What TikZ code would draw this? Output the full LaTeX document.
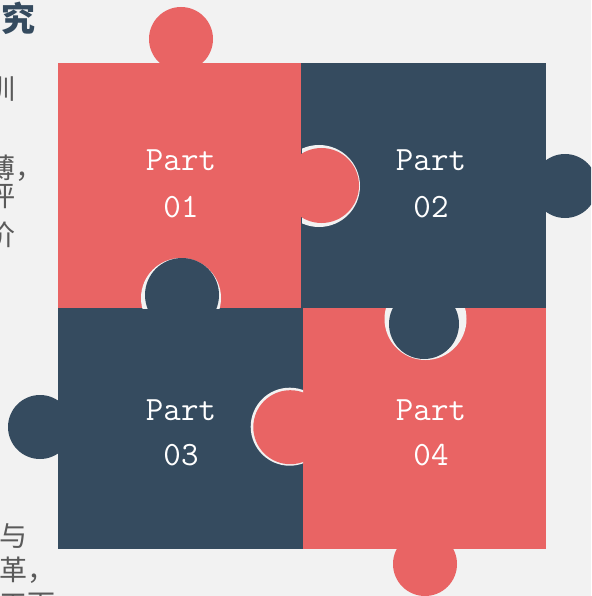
\documentclass[tikz,border=0pt]{standalone}
\usepackage{fontspec}
\newfontfamily\cjk{Noto Sans CJK SC}
\definecolor{pred}{HTML}{E96464}
\definecolor{pblue}{HTML}{354B5F}
\definecolor{bg}{HTML}{F2F2F2}
\definecolor{txtgray}{HTML}{5A5A5A}
\tikzset{
  parttext/.style={text=white, font=\ttfamily\fontsize{34}{40}\selectfont, anchor=base, inner sep=0pt},
  sidetext/.style={text=txtgray, font=\cjk\fontsize{28}{28}\selectfont, inner sep=0pt},
  titletext/.style={text=pblue, font=\cjk\bfseries\fontsize{34}{34}\selectfont, inner sep=0pt, anchor=base west},
}
\begin{document}
\begin{tikzpicture}[x=1pt,y=-1pt]
\useasboundingbox (0,0) rectangle (591,596);
\clip (0,0) rectangle (591,596);
\fill[bg] (0,0) rectangle (591,596);

% outer knobs
\fill[pred] (181,39) circle[radius=32];
\fill[pblue] (565,186) circle[radius=32];
\fill[pblue] (40,427) circle[radius=32];
\fill[pred] (425,564) circle[radius=32];

% squares
\fill[pred] (58,63) rectangle (302,308);
\fill[pblue] (301,63) rectangle (546,308);
\fill[pblue] (58,308) rectangle (303,549);
\fill[pred] (303,308) rectangle (546,549);

% inner knobs
\begin{scope}
  \clip (302,63) rectangle (546,308);
  \fill[bg] (319,186) circle[radius=41];
\end{scope}
\fill[pred] (321.5,185.5) circle[radius=37.5];

\begin{scope}
  \clip (58,63) rectangle (302,308);
  \fill[bg] (181,298) circle[radius=40];
\end{scope}
\fill[pblue] (182,295) circle[radius=37];

\begin{scope}
  \clip (303,308) rectangle (546,549);
  \fill[bg] (425.5,319) circle[radius=41];
\end{scope}
\fill[pblue] (424,324) circle[radius=35];

\begin{scope}
  \clip (58,308) rectangle (303,549);
  \fill[bg] (289.7,426.7) circle[radius=39];
\end{scope}
\fill[pred] (290.3,427.2) circle[radius=37];

% labels
\node[parttext] (p1a) at (181,171) {Part};
\node[parttext] (p1b) at (181,217) {01};
\node[parttext] (p2a) at (431,171) {Part};
\node[parttext] (p2b) at (431,217) {02};
\node[parttext] (p3a) at (181,420) {Part};
\node[parttext] (p3b) at (181,465) {03};
\node[parttext] (p4a) at (431,420) {Part};
\node[parttext] (p4b) at (431,465) {04};

% side text (clipped at left edge)
\node[titletext] (t1) at (1,32) {究};
\node[sidetext, anchor=base east] (s1) at (16,100) {训};
\node[sidetext, anchor=base west] (s2) at (-13,178) {薄，};
\node[sidetext, anchor=base east] (s3) at (16,206) {评};
\node[sidetext, anchor=base east] (s4) at (16,245) {价};
\node[sidetext, anchor=base west] (s5) at (-1,546) {与};
\node[sidetext, anchor=base west] (s6) at (-1,580) {革，};
\node[sidetext, anchor=base west] (s7) at (-1,614) {工下};
\end{tikzpicture}
\end{document}
